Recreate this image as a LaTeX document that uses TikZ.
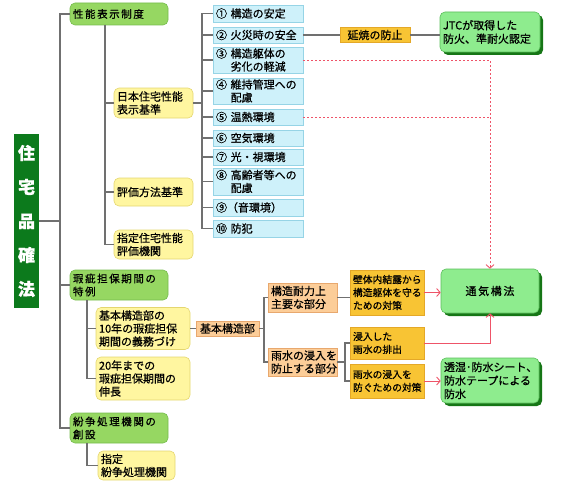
\documentclass[tikz,border=0pt]{standalone}
\usepackage{fontspec}
\setmainfont{Noto Sans CJK JP}[RawFeature={embolden=0.7}]
\newfontfamily\widejp{Noto Sans CJK JP}[LetterSpace=15,RawFeature={embolden=0.7}]
\usetikzlibrary{arrows.meta,shadows}

\definecolor{rootgreen}{RGB}{12,122,28}
\definecolor{onefill}{RGB}{150,215,98}
\definecolor{oneline}{RGB}{118,188,78}
\definecolor{yelfill}{RGB}{255,246,160}
\definecolor{yelline}{RGB}{228,214,112}
\definecolor{bluefill}{RGB}{206,241,250}
\definecolor{blueline}{RGB}{150,212,230}
\definecolor{orfill}{RGB}{248,196,52}
\definecolor{orline}{RGB}{228,168,40}
\definecolor{peachfill}{RGB}{252,205,152}
\definecolor{peachline}{RGB}{232,168,110}
\definecolor{resfill}{RGB}{142,236,142}
\definecolor{resline}{RGB}{92,190,92}
\definecolor{resshadow}{RGB}{22,118,22}
\definecolor{treegray}{RGB}{112,112,112}
\definecolor{arrred}{RGB}{238,84,104}

\tikzset{
  box/.style={draw, line width=0.6pt, inner xsep=3pt, inner ysep=1pt,
    align=left, font=\fontsize{11}{13}\selectfont},
  rootbox/.style={fill=rootgreen, text=white, minimum width=25, minimum height=174,
    inner sep=0pt, align=center, font=\fontsize{17}{34}\selectfont\bfseries},
  lvlone/.style={box, rounded corners=5pt, fill=onefill, draw=oneline,
    font=\fontsize{10.5}{13}\widejp, text width=92},
  lvltwo/.style={box, rounded corners=5pt, fill=yelfill, draw=yelline},
  itembox/.style={box, fill=bluefill, draw=blueline, text width=84},
  orbox/.style={box, fill=orfill, draw=orline, text width=68,
    font=\fontsize{9.8}{13}\selectfont},
  peachbox/.style={box, fill=peachfill, draw=peachline},
  resbox/.style={box, rounded corners=5pt, fill=resfill, draw=resline,
    font=\fontsize{11}{13.5}\selectfont,
    drop shadow={fill=resshadow, opacity=1, shadow xshift=3pt, shadow yshift=-3pt}},
  tree/.style={draw=treegray, line width=1.1pt},
  redarr/.style={draw=arrred, line width=0.9pt, -{Straight Barb[length=3.5pt,width=8pt]}},
  reddash/.style={draw=arrred, line width=0.9pt, dash pattern=on 2pt off 2pt}
}

\begin{document}
\begin{tikzpicture}[x=1pt,y=-1pt]
\useasboundingbox (0,0) rectangle (575,487);

% ---------------- ROOT ----------------
\node[rootbox] (root) at (26.5,221) {住\\宅\\品\\確\\法};

% ---------------- LEVEL ONE ----------------
\node[lvlone, minimum height=22] (s1) at (119,14) {性能表示制度};
\node[lvlone, minimum height=30] (s2) at (119,285) {瑕疵担保期間の\\特例};
\node[lvlone, minimum height=30] (s3) at (119,428) {紛争処理機関の\\創設};

% ---------------- LEVEL TWO ----------------
\node[lvltwo, text width=73, minimum height=30] (y1) at (153.5,103) {日本住宅性能\\表示基準};
\node[lvltwo, text width=73, minimum height=28] (y2) at (153.5,192) {評価方法基準};
\node[lvltwo, text width=73, minimum height=29] (y3) at (153.5,244.5) {指定住宅性能\\評価機関};
\node[lvltwo, text width=88, minimum height=42] (k1) at (143,328.5) {基本構造部の\\10年の瑕疵担保\\期間の義務づけ};
\node[lvltwo, text width=88, minimum height=43] (k2) at (143,378.5) {20年までの\\瑕疵担保期間の\\伸長};
\node[lvltwo, text width=71, minimum height=29] (z2) at (136.5,465.5) {指定\\紛争処理機関};

% ---------------- PERFORMANCE ITEMS ----------------
\node[itembox, minimum height=17] (i1) at (258,13.5) {① 構造の安定};
\node[itembox, minimum height=16] (i2) at (258,35) {② 火災時の安全};
\node[itembox, minimum height=26] (i3) at (258,60) {③ 構造躯体の\\\phantom{③ }劣化の軽減};
\node[itembox, minimum height=26] (i4) at (258,91) {④ 維持管理への\\\phantom{④ }配慮};
\node[itembox, minimum height=16] (i5) at (258,117) {⑤ 温熱環境};
\node[itembox, minimum height=16] (i6) at (258,138) {⑥ 空気環境};
\node[itembox, minimum height=16] (i7) at (258,157) {⑦ 光・視環境};
\node[itembox, minimum height=27] (i8) at (258,181.5) {⑧ 高齢者等への\\\phantom{⑧ }配慮};
\node[itembox, minimum height=17] (i9) at (258,207.5) {⑨（音環境）};
\node[itembox, minimum height=17] (i10) at (258,228.5) {⑩ 防犯};

% fire spread
\node[box, fill=orfill, draw=orline, minimum width=70, minimum height=15, align=center] (fire) at (375,35) {延焼の防止};
\node[resbox, text width=94, minimum height=40] (jtc) at (490,32) {JTCが取得した\\防火、準耐火認定};

% ---------------- BASIC STRUCTURE ----------------
\node[peachbox, minimum width=63, minimum height=15, align=center] (b0) at (227.5,328.5) {基本構造部};
\node[peachbox, text width=63, minimum height=29] (p1) at (302.5,297.5) {構造耐力上\\主要な部分};
\node[peachbox, text width=63, minimum height=28] (p2) at (302.5,362) {雨水の浸入を\\防止する部分};

\node[orbox, minimum height=45] (o1) at (387,292.5) {壁体内結露から\\構造躯体を守る\\ための対策};
\node[orbox, minimum height=32] (o2) at (387,343) {浸入した\\雨水の排出};
\node[orbox, minimum height=34] (o3) at (387,381) {雨水の浸入を\\防ぐための対策};

% ---------------- RESULTS ----------------
\node[resbox, minimum width=98, minimum height=44, align=center] (r1) at (490,291) {\widejp 通気構法};
\node[resbox, text width=92, minimum height=45] (r2) at (490,380.5) {透湿･防水シート、\\防水テープによる\\防水};

% ---------------- TREE LINES ----------------
\coordinate (rj) at (60,221);
\coordinate (j1) at (105,25);
\coordinate (j2) at (202,103);
\coordinate (j3) at (87,300);
\coordinate (j4) at (87,443);
\coordinate (j5) at (264,328.5);
\coordinate (j6) at (345,362);

\draw[tree] (root) -- (rj);
\foreach \n in {s1,s2,s3} \draw[tree] (rj) |- (\n.west);
\foreach \n in {y1,y2,y3} \draw[tree] (j1) |- (\n.west);
\draw[tree] (y1) -- (j2);
\foreach \n in {i1,i2,i3,i4,i5,i6,i7,i8,i9,i10} \draw[tree] (j2) |- (\n.west);
\foreach \n in {k1,k2} \draw[tree] (j3) |- (\n.west);
\draw[tree] (j4) |- (z2.west);

\draw[tree] (i2) -- (fire);
\draw[tree] (fire.east) -- (fire.east -| jtc.west);

\draw[tree] (k1) -- (b0);
\draw[tree] (b0) -- (j5);
\foreach \n in {p1,p2} \draw[tree] (j5) |- (\n.west);
\draw[tree] (p1.east) -- (p1.east -| o1.west);
\draw[tree] (p2) -- (j6);
\foreach \n in {o2,o3} \draw[tree] (j6) |- (\n.west);

% ---------------- RED ARROWS ----------------
\draw[redarr] (o1.east) -- (o1.east -| r1.west);
\draw[redarr] (o2.east) -| (r1.south);
\draw[redarr] (o3.east) -- (o3.east -| r2.west);
\draw[reddash, -{Straight Barb[length=3.5pt,width=8pt]}] (i3.east) -| (r1.north);
\draw[reddash] (i5.east) -- (i5.east -| r1.north);

\end{tikzpicture}
\end{document}
